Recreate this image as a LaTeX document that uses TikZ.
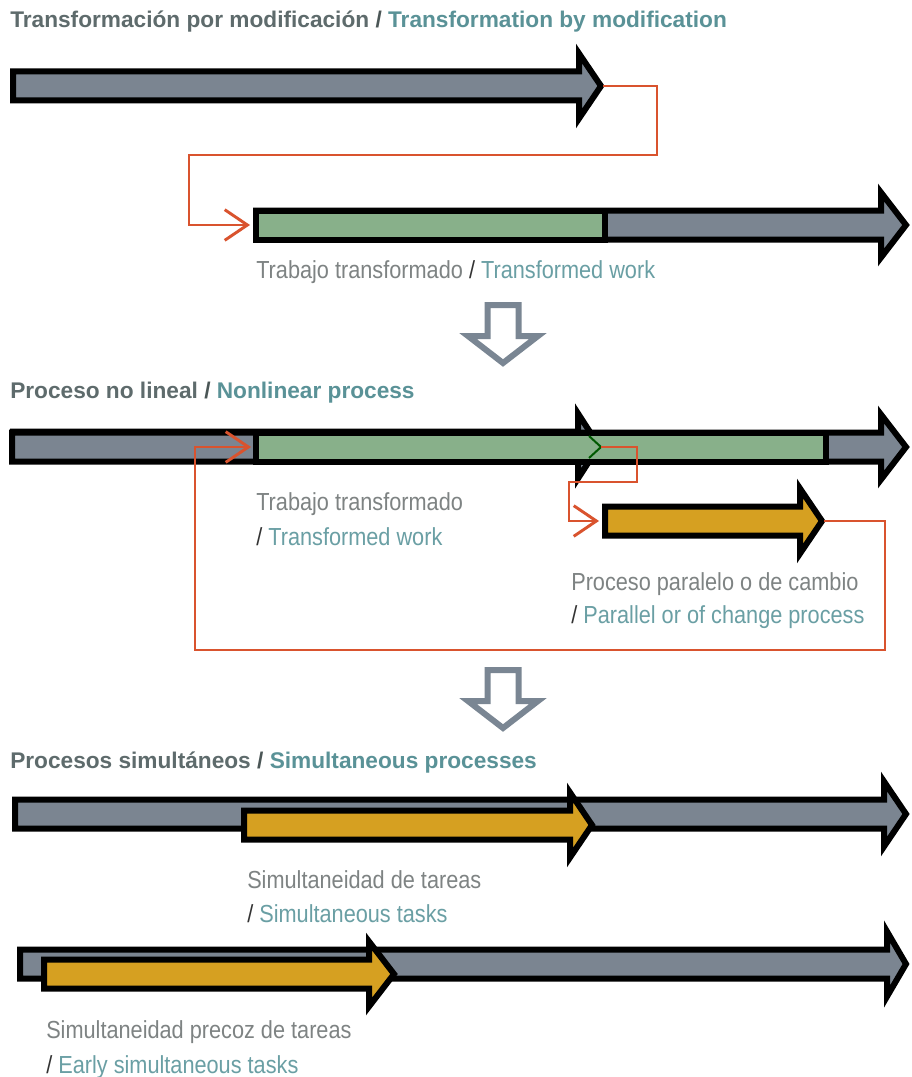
\documentclass[tikz,border=0pt]{standalone}
\usepackage{fontspec}
\setmainfont{Liberation Sans}[FakeStretch=0.88]
\newfontfamily\titlefamily{Liberation Sans}
\usetikzlibrary{arrows.meta}

\definecolor{barGray}{HTML}{7B8591}
\definecolor{workGreen}{HTML}{88B08A}
\definecolor{taskOrange}{HTML}{D6A021}
\definecolor{linkRed}{HTML}{D9532E}
\definecolor{headGray}{HTML}{5E6B6C}
\definecolor{headTeal}{HTML}{5A9297}
\definecolor{txtGray}{HTML}{7E8383}
\definecolor{txtTeal}{HTML}{6A9FA4}
\definecolor{stepGray}{HTML}{7A8693}

\tikzset{
  bar/.style={draw=black, line width=4.5pt, line join=miter},
  link/.style={draw=linkRed, line width=2.2pt,
    -{Straight Barb[length=17pt,width=23pt]}},
  headtext/.style={anchor=base west, inner sep=0pt,
    font=\titlefamily\fontsize{17pt}{20pt}\selectfont\bfseries},
  bodytext/.style={anchor=base west, inner sep=0pt,
    font=\fontsize{18.5pt}{22pt}\selectfont},
  downstep/.style={draw=stepGray, fill=white, line width=4.5pt, line join=miter}
}

% fat arrow: fill, left x, head base x, tip x, centre y
\newcommand{\fatarrow}[5]{%
  \filldraw[bar, fill=#1] (#2,#5-14.5) -- (#3,#5-14.5) -- (#3,#5-32.5) -- (#4,#5)
    -- (#3,#5+32.5) -- (#3,#5+14.5) -- (#2,#5+14.5) -- cycle;
}
% hollow down arrow: centre x, top y
\newcommand{\downstep}[2]{%
  \draw[downstep] (#1-15.5,#2) -- (#1+15.5,#2) -- (#1+15.5,#2+31) -- (#1+35,#2+31)
    -- (#1,#2+58) -- (#1-35,#2+31) -- (#1-15.5,#2+31) -- cycle;
}

\begin{document}
\begin{tikzpicture}[x=0.75pt, y=-0.75pt]
    \useasboundingbox[fill=white] (0,0) rectangle (912,1077);

    % Transformation by modification
    \node[headtext] (title1) at (10,28) {{\color{headGray}Transformación por modificación} {\color{headGray!80!black}/} {\color{headTeal}Transformation by modification}};

    \fatarrow{barGray}{13}{579}{601}{86}
    \fatarrow{barGray}{256}{881}{906}{225}
    \filldraw[bar, fill=workGreen] (256,225-14.5) rectangle (605,225+14.5);

    \coordinate (a1tip) at (603,86);
    \coordinate (r1) at (657,155);
    \coordinate (r2) at (189,155);
    \coordinate (b1in) at (250,225);
    \draw[link] (a1tip) -| (r1) -- (r2) |- (b1in);

    \node[bodytext] (work1) at (256,278) {{\color{txtGray}Trabajo transformado} {\color{black!80}/} {\color{txtTeal}Transformed work}};

    \downstep{503}{305}

    % Nonlinear process
    \node[headtext] (title2) at (10,398) {{\color{headGray}Proceso no lineal} {\color{headGray!80!black}/} {\color{headTeal}Nonlinear process}};

    \fatarrow{barGray}{13}{578}{599}{446}
    \fatarrow{barGray}{12}{881}{906}{447}
    \filldraw[bar, fill=workGreen] (256,447-14.5) rectangle (826,447+14.5);
    \draw[green!35!black, line width=1.5pt] (589,436) -- (601,447) -- (589,458);
    \fatarrow{taskOrange}{605}{800}{822}{521}

    \coordinate (a2tip) at (601,447);
    \coordinate (r3) at (637,482);
    \coordinate (r4) at (569,482);
    \coordinate (c2in) at (599,521);
    \draw[link] (a2tip) -| (r3) -- (r4) |- (c2in);

    \coordinate (c2tip) at (824,521);
    \coordinate (r5) at (885,650);
    \coordinate (r6) at (195,650);
    \coordinate (b2in) at (251,447);
    \draw[link] (c2tip) -| (r5) -- (r6) |- (b2in);

    \node[bodytext] (work2) at (256,510) {\color{txtGray}Trabajo transformado};
    \node[bodytext] (work2en) at (256,545) {{\color{black!80}/} {\color{txtTeal}Transformed work}};
    \node[bodytext] (par) at (571,590) {\color{txtGray}Proceso paralelo o de cambio};
    \node[bodytext] (paren) at (571,623) {{\color{black!80}/} {\color{txtTeal}Parallel or of change process}};

    \downstep{503}{670}

    % Simultaneous processes
    \node[headtext] (title3) at (10,768) {{\color{headGray}Procesos simultáneos} {\color{headGray!80!black}/} {\color{headTeal}Simultaneous processes}};

    \fatarrow{barGray}{15}{884}{906}{814}
    \fatarrow{taskOrange}{244}{570}{592}{825}
    \node[bodytext] (sim) at (247,888) {\color{txtGray}Simultaneidad de tareas};
    \node[bodytext] (simen) at (247,922) {{\color{black!80}/} {\color{txtTeal}Simultaneous tasks}};

    \fatarrow{barGray}{20}{887}{906}{964}
    \fatarrow{taskOrange}{44}{369}{394}{974}
    \node[bodytext] (early) at (46,1038) {\color{txtGray}Simultaneidad precoz de tareas};
    \node[bodytext] (earlyen) at (46,1073) {{\color{black!80}/} {\color{txtTeal}Early simultaneous tasks}};

\end{tikzpicture}
\end{document}
